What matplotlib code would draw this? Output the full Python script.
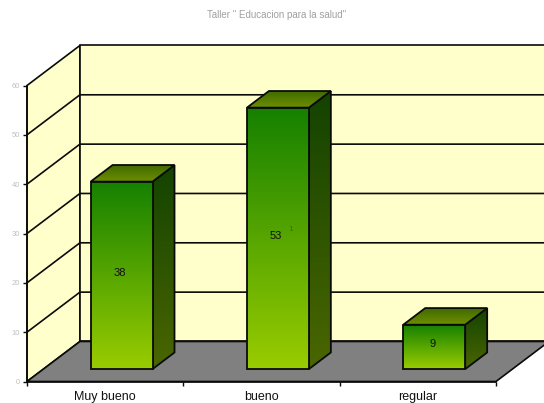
import matplotlib
matplotlib.use('Agg')
import matplotlib.pyplot as plt
import numpy as np
from matplotlib.colors import LinearSegmentedColormap
from matplotlib.patches import Polygon

plt.rcParams['font.family'] = ['Liberation Sans', 'DejaVu Sans']

# data
categories = ['Muy bueno', 'bueno', 'regular']
values = [38, 53, 9]
y_ticks = [0, 10, 20, 30, 40, 50, 60]
title = 'Taller " Educacion para la salud"'

# fake 3d: one unit of depth moves this far on the front plane
dx_depth = 53 / 156.5
dy_depth = 40 / 4.93
bar_width = 0.396
bar_d0 = 0.31
bar_d1 = 0.725


def proj(x, v, d=0.0):
    return x + d * dx_depth, v + d * dy_depth


fig = plt.figure(figsize=(5.44, 4.03), dpi=100)
ax = fig.add_axes([27 / 544, (403 - 381.5) / 403, 469 / 544, 296 / 403])
ax.patch.set_visible(False)

wall = '#ffffcc'
edge = '#0a0a0a'


def face(points, c_top, c_bottom, z):
    # polygon filled with a vertical gradient, black outline
    xs = [p[0] for p in points]
    ys = [p[1] for p in points]
    cmap = LinearSegmentedColormap.from_list('g', [c_top, c_bottom])
    im = ax.imshow(np.linspace(0, 1, 128).reshape(-1, 1), cmap=cmap, aspect='auto',
                   extent=[min(xs), max(xs), min(ys), max(ys)], origin='upper', zorder=z)
    pg = Polygon(points, closed=True, fc='none', ec=edge, lw=1.3, zorder=z + 0.1, clip_on=False)
    ax.add_patch(pg)
    im.set_clip_path(pg)
    im.set_clip_on(True)


# walls and floor
ntop = max(y_ticks)
nx = len(categories)
ax.add_patch(Polygon([proj(0, 0), proj(0, 0, 1), proj(0, ntop, 1), proj(0, ntop)],
                     fc=wall, ec=edge, lw=1.2, zorder=1, clip_on=False))
ax.add_patch(Polygon([proj(0, 0, 1), proj(nx, 0, 1), proj(nx, ntop, 1), proj(0, ntop, 1)],
                     fc=wall, ec=edge, lw=1.2, zorder=1, clip_on=False))
ax.add_patch(Polygon([proj(0, 0), proj(nx, 0), proj(nx, 0, 1), proj(0, 0, 1)],
                     fc='#808080', ec=edge, lw=1.2, zorder=2, clip_on=False))

# grid
for t in y_ticks[1:-1]:
    x0, y0 = proj(0, t)
    x1, y1 = proj(0, t, 1)
    x2, y2 = proj(nx, t, 1)
    ax.plot([x0, x1, x2], [y0, y1, y2], color=edge, lw=1.2, zorder=1.5, clip_on=False)

# bars
for i, v in enumerate(values):
    left = i + 0.5 - bar_width / 2
    right = i + 0.5 + bar_width / 2
    front = [proj(left, 0, bar_d0), proj(right, 0, bar_d0), proj(right, v, bar_d0), proj(left, v, bar_d0)]
    side = [proj(right, 0, bar_d0), proj(right, 0, bar_d1), proj(right, v, bar_d1), proj(right, v, bar_d0)]
    top = [proj(left, v, bar_d0), proj(right, v, bar_d0), proj(right, v, bar_d1), proj(left, v, bar_d1)]
    face(side, '#134300', '#4a6600', 3 + i)
    face(top, '#3f6a00', '#6f8f00', 3.3 + i)
    face(front, '#158000', '#99cc00', 3.6 + i)
    cx, cy = proj(i + 0.5, v / 2, bar_d0)
    ax.text(cx - 0.012, cy + 0.5, str(v), ha='center', va='center', fontsize=8, color='#111111', zorder=8)

# stray mark next to the 53 label
ax.text(1.69, 30.8, '1', ha='center', va='center', fontsize=6, color='#3f7000', zorder=8)

ax.set_xlim(0, nx)
ax.set_ylim(0, ntop)
ax.set_yticks(y_ticks)
ax.set_xticks(range(nx + 1))
ax.set_xticklabels([])
ax.set_xticks(np.arange(nx) + 0.5, minor=True)
ax.set_xticklabels(categories, minor=True, fontsize=9, color='#111111')
ax.tick_params(axis='x', which='minor', length=0, pad=7)
ax.tick_params(axis='x', which='major', length=3, width=1, color=edge)
ax.tick_params(axis='y', length=3, width=1, color=edge, labelsize=5.5, labelcolor='#c0c0c0', pad=2)
for s in ['top', 'right']:
    ax.spines[s].set_visible(False)
for s in ['left', 'bottom']:
    ax.spines[s].set_linewidth(1.2)
    ax.spines[s].set_color(edge)
    ax.spines[s].set_zorder(9)

fig.text(277 / 544, 1 - 15 / 403, title, ha='center', va='center', fontsize=7, color='#a0a0a0')

fig.savefig('out.png', dpi=100)
